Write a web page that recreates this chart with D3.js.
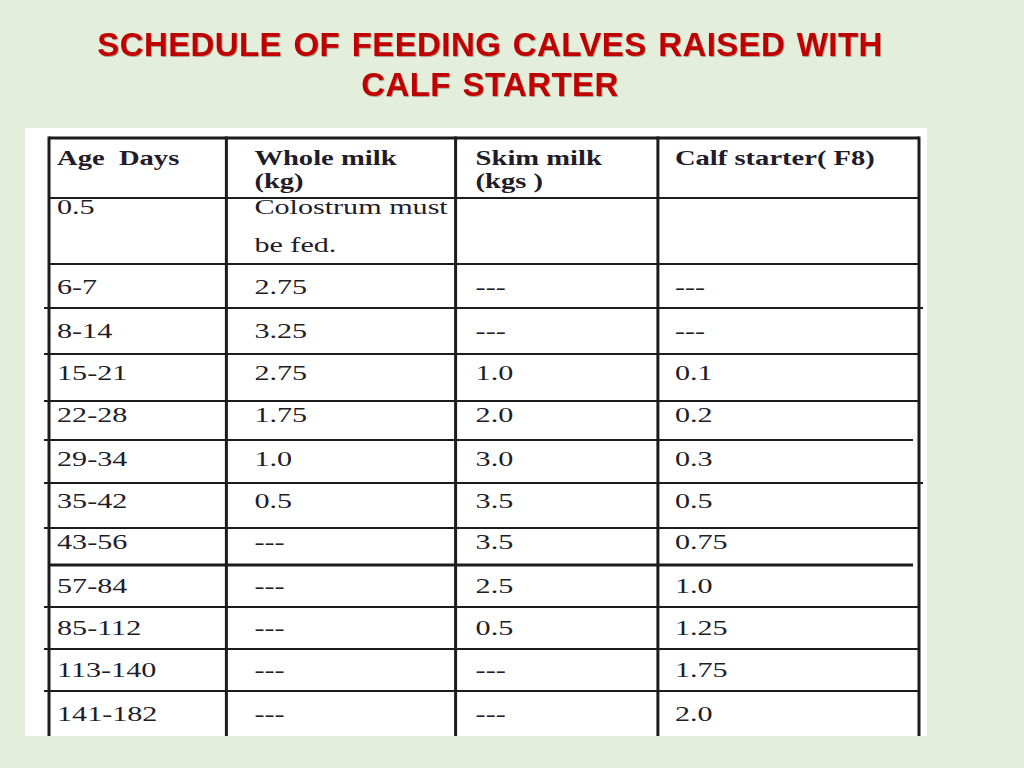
<!DOCTYPE html>
<html>
<head>
<meta charset="utf-8">
<script src="https://cdn.jsdelivr.net/npm/d3@7"></script>
<style>
  html, body { margin: 0; padding: 0; background: #e3eedb; }
  svg { display: block; }
  text { white-space: pre; }
</style>
</head>
<body>
<svg id="chart" width="1024" height="768"></svg>
<script>
// ---------- data ----------
const titleLines = ["SCHEDULE OF FEEDING CALVES RAISED WITH", "CALF STARTER"];
const headers = [["Age  Days"], ["Whole milk", "(kg)"], ["Skim milk", "(kgs )"], ["Calf starter( F8)"]];
const ages        = ["0.5", "6-7", "8-14", "15-21", "22-28", "29-34", "35-42", "43-56", "57-84", "85-112", "113-140", "141-182"];
const wholeMilk   = ["Colostrum must|be fed.", "2.75", "3.25", "2.75", "1.75", "1.0", "0.5", "---", "---", "---", "---", "---"];
const skimMilk    = ["", "---", "---", "1.0", "2.0", "3.0", "3.5", "3.5", "2.5", "0.5", "---", "---"];
const calfStarter = ["", "---", "---", "0.1", "0.2", "0.3", "0.5", "0.75", "1.0", "1.25", "1.75", "2.0"];

// ---------- layout (not data) ----------
const rowHeights = [60, 66, 44, 46, 47, 39, 43, 45, 37, 42, 42, 42, 45];
const rowTextDy  = [0, 3, 2, -3, -4, -1, -3, -3, 2, 2, 2, 2];
// per horizontal rule: [left overhang, right end offset, width]
const ruleStyle  = [[0, 0, 3], [0, 0, 2.2], [0, 0, 2.2], [5, 4, 2.2], [5, 0, 2.2], [5, 0, 2.2], [5, -6, 2.2],
                    [5, 4, 2.2], [5, 0, 2.2], [0, -6, 3.2], [5, 0, 2.2], [5, 0, 2.2], [5, 0, 2.2]];
const colWidths  = [178, 230, 203, 262];
const textInset  = [8, 28, 20, 17];
const table = { x: 49, y: 138 };
const panel = { x: 25, y: 128, w: 902, h: 608 };
const bodyScaleX = 1.37, headScaleX = 1.3;

const svg = d3.select("#chart");

// background panel
svg.append("rect").attr("x", panel.x).attr("y", panel.y)
  .attr("width", panel.w).attr("height", panel.h).attr("fill", "#ffffff");

// title
const defs = svg.append("defs");
const f = defs.append("filter").attr("id", "sh").attr("x", "-5%").attr("y", "-20%").attr("width", "110%").attr("height", "140%");
f.append("feDropShadow").attr("dx", 0.8).attr("dy", 0.8).attr("stdDeviation", 0.6)
  .attr("flood-color", "#400000").attr("flood-opacity", 0.4);

const titleY = d3.scaleLinear().domain([0, 1]).range([56, 96]);
svg.selectAll("text.title").data(titleLines).join("text")
  .attr("class", "title")
  .attr("x", 490).attr("y", (d, i) => titleY(i))
  .attr("text-anchor", "middle")
  .attr("font-family", "'Liberation Sans', Arial, sans-serif")
  .attr("font-weight", "bold").attr("font-size", 33)
  .attr("letter-spacing", 0.4)
  .attr("word-spacing", 2)
  .attr("fill", "#c00000")
  .attr("filter", "url(#sh)")
  .text(d => d);

// scales
const rowEdges = [0].concat(Array.from(d3.cumsum(rowHeights)));
const colEdges = [0].concat(Array.from(d3.cumsum(colWidths)));
const y = d3.scaleLinear().domain([0, rowEdges[rowEdges.length - 1]]).range([table.y, table.y + 598]);
const x = d3.scaleLinear().domain([0, colEdges[colEdges.length - 1]]).range([table.x, table.x + 870]);
const xEnd = x(colEdges[colEdges.length - 1]);

const g = svg.append("g");

// grid lines
g.selectAll("line.h").data(rowEdges.slice(0, -1)).join("line")
  .attr("class", "h")
  .attr("x1", (d, i) => x(0) - ruleStyle[i][0])
  .attr("x2", (d, i) => xEnd + ruleStyle[i][1])
  .attr("y1", d => y(d)).attr("y2", d => y(d))
  .attr("stroke", "#1c1c1c").attr("stroke-width", (d, i) => ruleStyle[i][2]);

g.selectAll("line.v").data(colEdges).join("line")
  .attr("class", "v")
  .attr("x1", d => x(d)).attr("x2", d => x(d))
  .attr("y1", y(0) - 1.5).attr("y2", panel.y + panel.h)
  .attr("stroke", "#1c1c1c").attr("stroke-width", 3);

// text helper
function cellText(lines, col, baselineY, lineGap, bold) {
  lines.forEach((t, k) => {
    g.append("text")
      .attr("transform", `translate(${x(colEdges[col]) + textInset[col]},${baselineY + k * lineGap}) scale(${bold ? headScaleX : bodyScaleX},1)`)
      .attr("font-family", "'Liberation Serif', 'Times New Roman', serif")
      .attr("font-size", 22)
      .attr("font-weight", bold ? "bold" : "normal")
      .attr("fill", "#221c28")
      .text(t);
  });
}

// header row
headers.forEach((h, c) => cellText(h, c, y(rowEdges[0]) + 27, 23, true));

// body rows
const columns = [ages, wholeMilk, skimMilk, calfStarter];
ages.forEach((a, r) => {
  const top = y(rowEdges[r + 1]);
  const bot = y(rowEdges[r + 2]);
  columns.forEach((col, c) => {
    const v = col[r];
    if (!v) return;
    if (r === 0) {
      cellText(v.split("|"), c, top + 16, 38, false);
    } else {
      cellText([v], c, (top + bot) / 2 + 5 + rowTextDy[r], 0, false);
    }
  });
});
</script>
</body>
</html>
